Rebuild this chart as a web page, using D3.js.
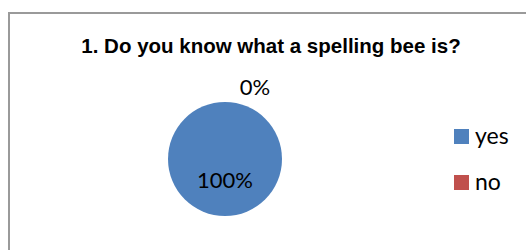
<!DOCTYPE html>
<html>
<head>
<meta charset="utf-8">
<script src="https://cdn.jsdelivr.net/npm/d3@7"></script>
<style>
  body { margin: 0; background: #fff; }
  .title { font-family: "Liberation Sans", Arial, sans-serif; font-weight: bold; font-size: 20.5px; fill: #000; }
  .lbl { font-family: Lato, "Open Sans", sans-serif; font-size: 22px; fill: #000; }
  .leg { font-family: Lato, "Open Sans", sans-serif; font-size: 23px; fill: #000; }
</style>
</head>
<body>
<div id="pie"></div>
<script>
const categories = ["yes", "no"];
const values = [100, 0];
const colors = ["#4F81BD", "#C0504D"];
const title = "1. Do you know what a spelling bee is?";

const width = 526, height = 250;
const cx = 225, cy = 159, radius = 57;

const svg = d3.select("#pie").append("svg")
  .attr("width", width)
  .attr("height", height);

// chart area border (runs off the right/bottom edge)
svg.append("rect")
  .attr("x", 9).attr("y", 13)
  .attr("width", 600).attr("height", 300)
  .attr("fill", "#fff")
  .attr("stroke", "#9a9a9a")
  .attr("stroke-width", 2);

svg.append("text")
  .attr("class", "title")
  .attr("x", 271).attr("y", 53)
  .attr("text-anchor", "middle")
  .text(title);

const data = categories.map((c, i) => ({ cat: c, value: values[i], color: colors[i] }));
const total = d3.sum(values);

const pie = d3.pie().sort(null).value(d => d.value);
const arcs = pie(data);
const arc = d3.arc().innerRadius(0).outerRadius(radius);
const inner = d3.arc().innerRadius(0).outerRadius(radius * 0.7);
const outer = d3.arc().innerRadius(radius + 17).outerRadius(radius + 17);

const g = svg.append("g").attr("transform", `translate(${cx},${cy})`);

g.selectAll("path")
  .data(arcs)
  .enter()
  .append("path")
  .attr("d", arc)
  .attr("fill", d => d.data.color);

// labels: inside for the full slice, outside (top right) for the empty one
g.selectAll("text")
  .data(arcs)
  .enter()
  .append("text")
  .attr("class", "lbl")
  .attr("text-anchor", "middle")
  .attr("dominant-baseline", "central")
  .attr("transform", d => {
    const p = d.value > 0 ? inner.centroid(d) : outer.centroid(d);
    const dx = d.value > 0 ? 0 : 30;
    return `translate(${p[0] + dx},${p[1] + 1})`;
  })
  .text(d => Math.round(d.value / total * 100) + "%");

// legend
const legendY = d3.scalePoint().domain(categories).range([136.5, 182.5]);
const legend = svg.append("g").selectAll("g")
  .data(data)
  .enter()
  .append("g")
  .attr("transform", d => `translate(454,${legendY(d.cat)})`);

legend.append("rect")
  .attr("x", 0).attr("y", -7.5)
  .attr("width", 15).attr("height", 15)
  .attr("fill", d => d.color);

legend.append("text")
  .attr("class", "leg")
  .attr("x", 21).attr("y", 7)
  .text(d => d.cat);
</script>
</body>
</html>
